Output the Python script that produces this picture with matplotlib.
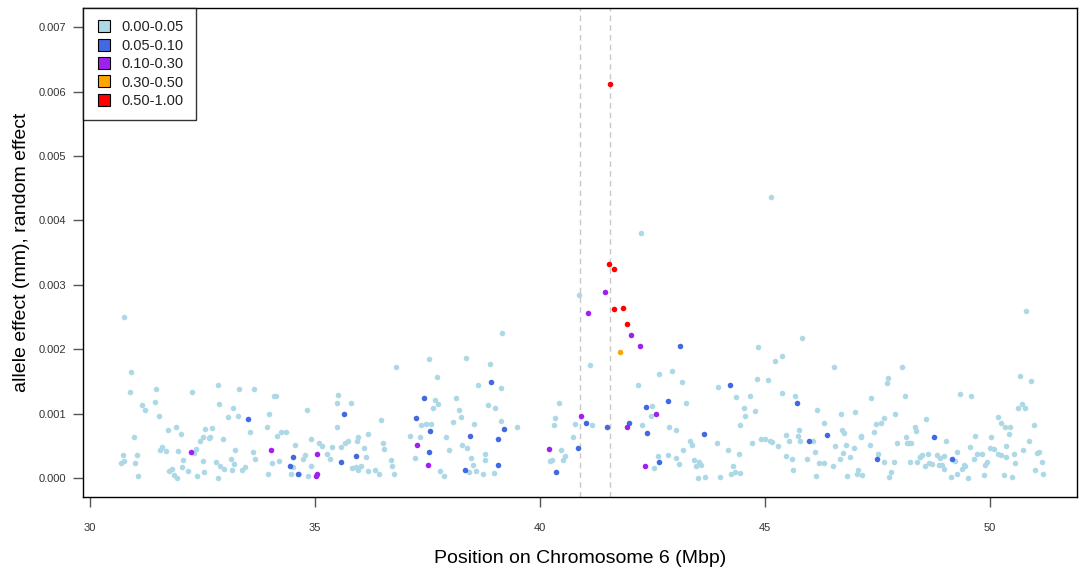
#!/usr/bin/env python3
"""Allele effect along chromosome 6, coloured by posterior class."""

import matplotlib
matplotlib.use("Agg")
import matplotlib.pyplot as plt
from matplotlib.lines import Line2D

plt.rcParams["font.family"] = ["Liberation Sans", "DejaVu Sans"]

# light blue: 0.00-0.05
LB_POS = [
    30.68, 30.72, 30.74, 30.76, 30.89, 30.91, 30.97, 30.99, 31.04, 31.07,
    31.14, 31.21, 31.43, 31.47, 31.53, 31.56, 31.60, 31.68, 31.72, 31.76,
    31.81, 31.87, 31.90, 31.93, 31.96, 32.01, 32.05, 32.07, 32.18, 32.26,
    32.30, 32.36, 32.38, 32.45, 32.51, 32.51, 32.53, 32.55, 32.64, 32.66,
    32.70, 32.80, 32.84, 32.84, 32.86, 32.89, 32.94, 32.98, 33.07, 33.13,
    33.14, 33.18, 33.19, 33.21, 33.28, 33.30, 33.38, 33.44, 33.55, 33.61,
    33.65, 33.67, 33.92, 33.94, 33.98, 34.04, 34.09, 34.12, 34.15, 34.19,
    34.25, 34.36, 34.46, 34.50, 34.56, 34.65, 34.72, 34.77, 34.82, 34.84,
    34.90, 34.90, 35.09, 35.15, 35.27, 35.32, 35.38, 35.48, 35.48, 35.50,
    35.57, 35.67, 35.73, 35.79, 35.81, 35.90, 35.92, 35.96, 35.96, 36.02,
    36.08, 36.13, 36.17, 36.17, 36.33, 36.42, 36.47, 36.50, 36.54, 36.69,
    36.70, 36.76, 36.79, 37.10, 37.21, 37.33, 37.35, 37.46, 37.52, 37.58,
    37.62, 37.66, 37.70, 37.74, 37.78, 37.87, 37.90, 37.97, 38.07, 38.14,
    38.20, 38.24, 38.27, 38.35, 38.38, 38.42, 38.47, 38.50, 38.53, 38.58,
    38.62, 38.74, 38.78, 38.78, 38.85, 38.89, 38.97, 38.99, 39.12, 39.12,
    39.16, 39.49, 40.21, 40.26, 40.30, 40.32, 40.42, 40.47, 40.51, 40.56,
    40.72, 40.78, 40.87, 41.10, 41.15, 42.17, 42.25, 42.27, 42.46, 42.48,
    42.53, 42.61, 42.63, 42.83, 42.87, 42.92, 43.01, 43.02, 43.08, 43.15,
    43.18, 43.25, 43.33, 43.38, 43.42, 43.46, 43.50, 43.54, 43.58, 43.67,
    43.92, 43.96, 44.00, 44.18, 44.24, 44.29, 44.33, 44.36, 44.41, 44.43,
    44.44, 44.54, 44.56, 44.67, 44.70, 44.77, 44.82, 44.85, 44.90, 45.00,
    45.06, 45.10, 45.14, 45.16, 45.21, 45.29, 45.37, 45.37, 45.47, 45.47,
    45.54, 45.60, 45.62, 45.66, 45.73, 45.76, 45.78, 45.81, 45.93, 46.06,
    46.10, 46.14, 46.15, 46.20, 46.30, 46.31, 46.50, 46.53, 46.56, 46.66,
    46.68, 46.70, 46.72, 46.76, 46.80, 46.82, 46.89, 46.97, 46.99, 47.03,
    47.07, 47.12, 47.14, 47.16, 47.34, 47.36, 47.41, 47.47, 47.51, 47.57,
    47.63, 47.65, 47.70, 47.74, 47.76, 47.80, 47.87, 47.89, 47.93, 48.05,
    48.10, 48.13, 48.16, 48.20, 48.21, 48.25, 48.32, 48.36, 48.38, 48.43,
    48.45, 48.49, 48.55, 48.57, 48.61, 48.65, 48.70, 48.81, 48.86, 48.88,
    48.92, 48.97, 48.98, 49.01, 49.12, 49.21, 49.26, 49.27, 49.32, 49.38,
    49.41, 49.45, 49.50, 49.56, 49.58, 49.65, 49.67, 49.70, 49.82, 49.87,
    49.88, 49.94, 50.00, 50.01, 50.09, 50.17, 50.18, 50.23, 50.25, 50.30,
    50.34, 50.36, 50.36, 50.42, 50.44, 50.48, 50.53, 50.56, 50.61, 50.67,
    50.71, 50.73, 50.77, 50.79, 50.86, 50.90, 50.98, 50.99, 51.04, 51.08,
    51.15, 51.18,
]
LB_EFFECT = [
    0.00023, 0.00035, 0.00250, 0.00026, 0.00133, 0.00164, 0.00063, 0.00023, 0.00035, 0.00003,
    0.00113, 0.00106, 0.00118, 0.00139, 0.00097, 0.00044, 0.00048, 0.00042, 0.00075, 0.00011,
    0.00014, 0.00005, 0.00080, 0.00000, 0.00042, 0.00069, 0.00017, 0.00028, 0.00011, 0.00133,
    0.00039, 0.00045, 0.00003, 0.00058, 0.00064, 0.00026, 0.00009, 0.00076, 0.00062, 0.00064,
    0.00077, 0.00025, 0.00145, 0.00000, 0.00115, 0.00018, 0.00061, 0.00014, 0.00095, 0.00029,
    0.00012, 0.00108, 0.00022, 0.00044, 0.00097, 0.00138, 0.00012, 0.00017, 0.00071, 0.00040,
    0.00139, 0.00029, 0.00079, 0.00007, 0.00099, 0.00023, 0.00128, 0.00127, 0.00065, 0.00026,
    0.00071, 0.00071, 0.00006, 0.00017, 0.00051, 0.00006, 0.00029, 0.00035, 0.00106, 0.00003,
    0.00061, 0.00019, 0.00054, 0.00050, 0.00038, 0.00029, 0.00048, 0.00079, 0.00117, 0.00129,
    0.00048, 0.00055, 0.00057, 0.00116, 0.00015, 0.00017, 0.00057, 0.00064, 0.00012, 0.00019,
    0.00047, 0.00032, 0.00068, 0.00011, 0.00012, 0.00006, 0.00090, 0.00054, 0.00045, 0.00028,
    0.00019, 0.00006, 0.00173, 0.00066, 0.00031, 0.00064, 0.00083, 0.00084, 0.00185, 0.00084,
    0.00108, 0.00121, 0.00157, 0.00115, 0.00011, 0.00003, 0.00063, 0.00044, 0.00087, 0.00124,
    0.00105, 0.00095, 0.00051, 0.00187, 0.00047, 0.00009, 0.00031, 0.00020, 0.00084, 0.00011,
    0.00145, 0.00006, 0.00038, 0.00028, 0.00113, 0.00177, 0.00008, 0.00108, 0.00140, 0.00089,
    0.00226, 0.00079, 0.00026, 0.00028, 0.00082, 0.00093, 0.00116, 0.00044, 0.00028, 0.00034,
    0.00063, 0.00084, 0.00284, 0.00175, 0.00082, 0.00144, 0.00381, 0.00083, 0.00097, 0.00112,
    0.00015, 0.00034, 0.00162, 0.00035, 0.00079, 0.00167, 0.00031, 0.00075, 0.00022, 0.00149,
    0.00044, 0.00116, 0.00057, 0.00052, 0.00028, 0.00019, 0.00000, 0.00025, 0.00021, 0.00002,
    0.00055, 0.00141, 0.00002, 0.00044, 0.00006, 0.00018, 0.00010, 0.00126, 0.00037, 0.00008,
    0.00082, 0.00109, 0.00097, 0.00127, 0.00055, 0.00104, 0.00154, 0.00204, 0.00060, 0.00060,
    0.00152, 0.00058, 0.00436, 0.00056, 0.00182, 0.00050, 0.00190, 0.00132, 0.00067, 0.00034,
    0.00057, 0.00029, 0.00012, 0.00128, 0.00065, 0.00075, 0.00057, 0.00217, 0.00029, 0.00057,
    0.00041, 0.00003, 0.00106, 0.00023, 0.00023, 0.00086, 0.00018, 0.00172, 0.00050, 0.00029,
    0.00099, 0.00075, 0.00039, 0.00070, 0.00051, 0.00003, 0.00032, 0.00047, 0.00102, 0.00006,
    0.00012, 0.00066, 0.00063, 0.00005, 0.00052, 0.00124, 0.00071, 0.00084, 0.00038, 0.00086,
    0.00094, 0.00025, 0.00147, 0.00156, 0.00002, 0.00009, 0.00025, 0.00100, 0.00054, 0.00173,
    0.00128, 0.00064, 0.00055, 0.00055, 0.00025, 0.00055, 0.00080, 0.00073, 0.00025, 0.00032,
    0.00033, 0.00035, 0.00018, 0.00092, 0.00038, 0.00023, 0.00022, 0.00035, 0.00021, 0.00031,
    0.00021, 0.00014, 0.00034, 0.00057, 0.00002, 0.00026, 0.00006, 0.00040, 0.00130, 0.00014,
    0.00020, 0.00019, 0.00000, 0.00048, 0.00127, 0.00029, 0.00066, 0.00037, 0.00038, 0.00005,
    0.00020, 0.00025, 0.00047, 0.00063, 0.00045, 0.00095, 0.00037, 0.00086, 0.00035, 0.00005,
    0.00079, 0.00050, 0.00032, 0.00069, 0.00079, 0.00002, 0.00038, 0.00023, 0.00108, 0.00158,
    0.00115, 0.00043, 0.00109, 0.00259, 0.00058, 0.00150, 0.00083, 0.00012, 0.00039, 0.00041,
    0.00025, 0.00007,
]

# royal blue: 0.05-0.10
BL_POS = [
    33.51, 34.43, 34.50, 34.62, 35.57, 35.63, 35.90, 37.23, 37.41, 37.54,
    37.56, 38.33, 38.43, 38.91, 39.06, 39.07, 39.20, 40.36, 40.84, 41.01,
    41.49, 41.98, 42.36, 42.38, 42.65, 42.83, 43.10, 43.63, 44.21, 45.70,
    45.98, 46.38, 47.49, 48.76, 49.15,
]
BL_EFFECT = [
    0.00092, 0.00019, 0.00033, 0.00006, 0.00025, 0.00099, 0.00034, 0.00093, 0.00124, 0.00040,
    0.00073, 0.00012, 0.00066, 0.00149, 0.00060, 0.00020, 0.00076, 0.00010, 0.00047, 0.00086,
    0.00079, 0.00086, 0.00110, 0.00070, 0.00025, 0.00119, 0.00205, 0.00068, 0.00144, 0.00116,
    0.00057, 0.00067, 0.00029, 0.00063, 0.00029,
]

# purple: 0.10-0.30
PU_POS = [
    32.24, 34.01, 35.01, 35.03, 35.03, 37.27, 37.50, 40.19, 40.90, 41.07,
    41.44, 41.93, 42.01, 42.21, 42.32, 42.57,
]
PU_EFFECT = [
    0.00041, 0.00044, 0.00003, 0.00037, 0.00007, 0.00051, 0.00020, 0.00045, 0.00097, 0.00256,
    0.00289, 0.00079, 0.00222, 0.00205, 0.00019, 0.00100,
]

# orange: 0.30-0.50
OR_POS = [41.78]
OR_EFFECT = [0.00195]

# red: 0.50-1.00
RD_POS = [41.54, 41.55, 41.63, 41.65, 41.84, 41.94]
RD_EFFECT = [0.00333, 0.00612, 0.00325, 0.00263, 0.00264, 0.00239]

CLASS_LABELS = ["0.00-0.05", "0.05-0.10", "0.10-0.30", "0.30-0.50", "0.50-1.00"]
CLASS_COLORS = ["#ADD8E6", "#4169E1", "#A020F0", "#FFA500", "#FF0000"]

INTERVAL = [40.88, 41.55]
X_TICKS = [30, 35, 40, 45, 50]
Y_TICKS = [0.000, 0.001, 0.002, 0.003, 0.004, 0.005, 0.006, 0.007]


def main():
    fig = plt.figure(figsize=(10.81, 5.77), dpi=100)
    ax = fig.add_axes([0.0768, 0.1386, 0.9195, 0.8475])

    groups = [
        (LB_POS, LB_EFFECT), (BL_POS, BL_EFFECT), (PU_POS, PU_EFFECT),
        (OR_POS, OR_EFFECT), (RD_POS, RD_EFFECT),
    ]
    for (pos, eff), color in zip(groups, CLASS_COLORS):
        ax.scatter(pos, eff, s=16, color=color, linewidths=0, zorder=3)

    for x in INTERVAL:
        ax.axvline(x, color="#C8C8C8", linestyle=(0, (4, 3)), linewidth=1.0, zorder=1)

    ax.set_xlim(29.84, 51.93)
    ax.set_ylim(-0.000295, 0.00730)
    ax.set_xticks(X_TICKS)
    ax.set_yticks(Y_TICKS)
    ax.set_xticklabels([str(t) for t in X_TICKS])
    ax.set_yticklabels(["{:.3f}".format(t) for t in Y_TICKS])
    ax.tick_params(direction="out", length=7, width=1, color="#555555",
                   labelsize=8, labelcolor="#333333", pad=4)
    ax.tick_params(axis="x", pad=12)
    ax.tick_params(axis="y", pad=5)
    for spine in ax.spines.values():
        spine.set_color("black")
        spine.set_linewidth(1.0)

    ax.set_xlabel("Position on Chromosome 6 (Mbp)", fontsize=14, labelpad=12)
    ax.set_ylabel("allele effect (mm), random effect", fontsize=14, labelpad=6)

    handles = [
        Line2D([], [], marker="s", linestyle="none", markersize=9,
               markerfacecolor=c, markeredgecolor="black", markeredgewidth=0.8)
        for c in CLASS_COLORS
    ]
    leg = ax.legend(handles, CLASS_LABELS, loc="upper left", fontsize=10.5,
                    frameon=True, fancybox=False, borderaxespad=0,
                    handletextpad=0.6, labelspacing=0.3, borderpad=0.85,
                    handlelength=1.2)
    leg.get_frame().set_edgecolor("black")
    leg.get_frame().set_linewidth(1.0)
    for t in leg.get_texts():
        t.set_color("#222222")

    fig.savefig("out.png", dpi=100)
    plt.close(fig)


if __name__ == "__main__":
    main()
